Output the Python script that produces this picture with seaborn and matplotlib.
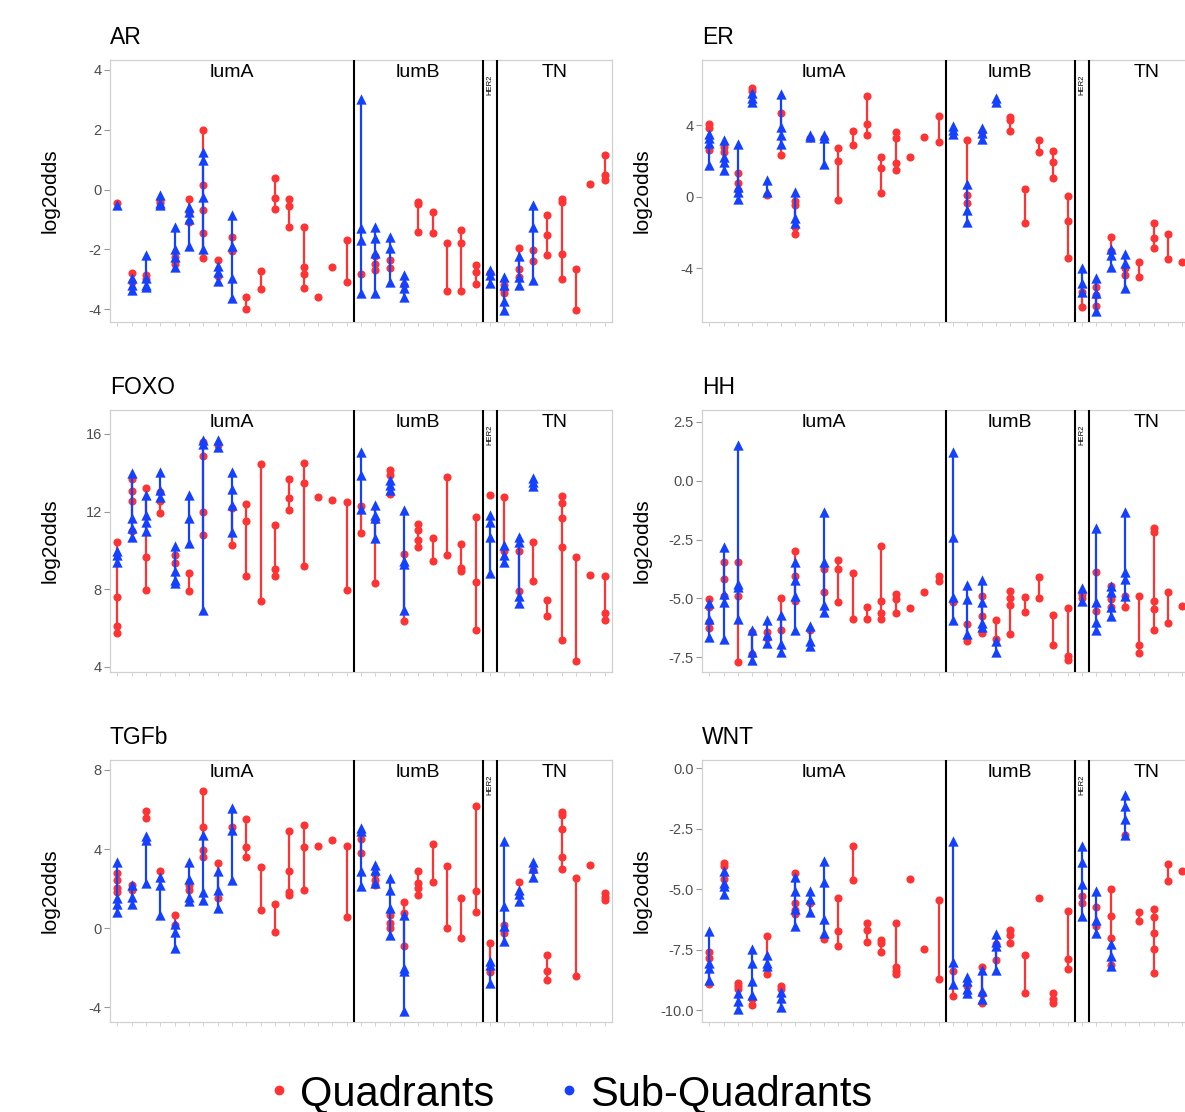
import numpy as np
import pandas as pd
import matplotlib
matplotlib.use("Agg")
import matplotlib.pyplot as plt
import seaborn as sns
from matplotlib.lines import Line2D

# subtype groups along the x axis (one column per sample)
groups = ["lumA", "lumB", "HER2", "TN"]
group_sizes = [17, 9, 1, 8]
pathways = ["AR", "ER", "FOXO", "HH", "TGFb", "WNT"]

# ---- AR ----
ar_quad = [[-0.44], [-2.8, -3.1], [-2.85, -3.0], [-0.4, -0.45], [-2.25, -2.5],
           [-0.32, -0.75, -1.1], [2.0, 0.15, -0.7, -1.45, -2.3], [-2.35, -2.9], [-1.58, -2.05],
           [-3.58, -3.99], [-2.74, -3.33], [0.4, -0.27, -0.66], [-0.32, -0.54, -1.24],
           [-1.24, -2.58, -2.82, -3.3], [-3.58], [-2.58], [-1.69, -3.08],
           [-2.82], [-2.24, -2.5, -2.69], [-2.36, -2.63], [-3.19], [-0.41, -0.5, -1.43],
           [-0.74, -1.47], [-1.78, -3.41], [-1.36, -1.78, -3.41], [-2.54, -2.77, -3.17],
           [-2.8],
           [-3.19, -3.35, -3.47], [-1.94, -2.66, -2.91], [-2.02, -2.39], [-0.86, -1.52, -2.19],
           [-0.32, -0.43, -2.17, -2.99], [-2.66, -4.02], [0.17], [1.17, 0.48, 0.31]]
ar_sub = [[-0.52], [-2.95, -3.2, -3.35], [-2.2, -2.95, -3.2, -3.25], [-0.2, -0.45, -0.52],
          [-1.25, -2.0, -2.25, -2.6], [-0.6, -0.75, -1.0, -1.9], [1.25, 1.0, -0.25, -2.0],
          [-2.55, -2.75, -3.05], [-0.85, -1.9, -2.97, -3.63],
          [], [], [], [], [], [], [], [],
          [3.03, -1.3, -1.69, -3.47], [-1.24, -1.63, -2.13, -3.47], [-1.58, -1.94, -3.08],
          [-2.86, -3.08, -3.3, -3.58], [], [], [], [], [],
          [-2.69, -2.86, -3.13],
          [-2.91, -3.19, -3.72, -4.02], [-2.24, -2.94, -3.19], [-0.52, -1.24, -3.02],
          [], [], [], [], []]

# ---- ER ----
er_quad = [[4.04, 3.85, 2.6], [2.8, 2.5], [1.3, 0.74, 0.37], [6.05, 5.9], [0.09],
           [4.65, 2.33], [-0.24, -0.45, -1.67, -2.1], [3.29], [3.29], [2.7, 1.99, -0.19],
           [3.67, 2.88], [5.64, 4.04, 3.44], [2.23, 1.62, 0.19], [3.63, 3.26, 1.86, 1.49],
           [2.2], [3.31], [4.5, 3.07],
           [], [3.16, 0.09, -0.33], [3.6], [], [4.47, 4.28, 3.67], [0.43, -1.49],
           [3.16, 2.51], [2.55, 1.92, 1.02], [0.04, -1.36, -3.44],
           [-5.3, -6.14],
           [-5.02, -5.49, -6.08], [-2.23, -3.03], [-4.0, -4.37], [-3.67, -4.47],
           [-1.49, -2.33, -2.85], [-2.1, -3.48], [-3.63], []]
er_sub = [[3.48, 3.26, 2.98, 1.77], [3.16, 2.23, 1.95, 1.49], [2.92, 0.56, 0.28, -0.13],
          [5.77, 5.49, 5.27], [0.93, 0.28], [5.71, 3.9, 3.44, 2.92], [0.28, -1.21, -1.49],
          [3.44, 3.35], [3.44, 3.3, 1.8],
          [], [], [], [], [], [], [], [],
          [3.96, 3.72, 3.5], [0.69, -0.74, -1.4], [3.85, 3.53, 3.22], [5.49, 5.3],
          [], [], [], [], [],
          [-4.0, -4.84, -5.34],
          [-4.52, -5.4, -6.38], [-2.92, -3.26, -3.91], [-3.22, -3.72, -5.12],
          [], [], [], [], []]

# ---- FOXO ----
foxo_quad = [[10.45, 7.57, 6.08, 5.73], [13.68, 13.06, 12.52, 11.0], [13.2, 9.63, 7.97],
             [13.0, 12.52, 11.91], [9.77, 9.34], [8.82, 7.88], [15.6, 14.88, 12.0, 10.8],
             [15.45], [12.17, 10.28], [12.39, 11.52, 8.65], [14.44, 7.36], [11.28, 9.05, 8.65],
             [13.68, 12.69, 12.09], [14.49, 13.46, 9.17], [12.74], [12.6], [12.48, 7.97],
             [12.26, 10.88], [11.57, 8.31], [14.15, 13.89, 12.89], [9.8, 6.37],
             [11.35, 11.06, 10.54, 10.15], [10.63, 9.46], [13.8, 9.77], [10.32, 9.08, 8.94],
             [11.74, 8.39, 5.91],
             [12.86],
             [12.77, 9.97], [9.94, 7.88], [10.45, 8.43], [7.45, 6.59],
             [12.82, 12.43, 11.66, 10.15, 5.39], [9.63, 4.31], [8.74], [8.65, 6.76, 6.42]]
foxo_sub = [[9.94, 9.77, 9.42], [13.97, 11.66, 11.14, 10.71], [12.86, 11.83, 11.48, 10.97],
            [14.06, 13.12, 12.77], [10.2, 8.91, 8.48, 8.31], [12.86, 11.66, 10.37],
            [15.69, 15.47, 6.94], [15.69, 15.35], [14.06, 13.17, 12.34, 10.94],
            [], [], [], [], [], [], [], [],
            [15.06, 13.89, 12.14], [12.34, 11.83, 11.66, 10.63], [13.63, 13.37, 13.12],
            [12.09, 9.46, 9.29, 6.94], [], [], [], [], [],
            [11.83, 11.48, 10.71, 8.82],
            [10.28, 9.77, 9.42], [10.71, 10.45, 7.62, 7.28], [13.72, 13.51, 13.29],
            [], [], [], [], []]

# ---- HH ----
hh_quad = [[-5.02, -5.37, -6.01, -6.27], [-3.47, -4.17, -4.88], [-3.47, -4.88, -7.68],
           [-6.44, -7.36], [-6.44, -6.69], [-4.99, -6.32], [-2.97, -4.03, -5.09], [-6.36],
           [-3.75, -4.71], [-3.35, -3.75, -5.16], [-3.92, -5.87], [-5.37, -5.87],
           [-2.79, -5.09, -5.62, -5.87], [-4.81, -5.02, -5.62], [-5.42], [-4.74], [-4.03, -4.24],
           [-5.16], [-6.08, -6.79], [-4.91, -5.76, -6.46], [-5.9, -6.72],
           [-4.67, -4.99, -5.28, -6.51], [-4.95, -5.59], [-4.1, -4.99], [-5.7, -6.97],
           [-5.42, -7.45, -7.6],
           [-4.81, -4.99],
           [-3.89, -5.52], [-4.46, -5.02, -5.37], [-4.88, -5.37], [-4.91, -6.97, -7.31],
           [-2.02, -2.16, -5.13, -5.47, -6.36], [-4.74, -6.04], [-5.33], []]
hh_sub = [[-5.19, -5.87, -6.65], [-2.83, -4.81, -5.16, -6.72], [1.51, -4.38, -4.53, -5.87],
          [-6.32, -7.28, -7.6], [-5.9, -6.55, -6.89], [-5.7, -6.93, -7.28],
          [-3.47, -4.2, -4.88, -6.36], [-6.15, -6.79, -7.03], [-1.32, -3.47, -5.3, -5.59],
          [], [], [], [], [], [], [], [],
          [1.2, -2.4, -4.95, -5.9], [-4.43, -5.02, -6.51], [-4.2, -5.16, -6.04, -6.22],
          [-6.79, -7.26], [], [], [], [], [],
          [-4.57, -5.09],
          [-2.02, -5.16, -5.98, -6.36], [-4.46, -4.74, -5.37, -5.76], [-1.32, -3.86, -4.17, -4.91],
          [], [], [], [], []]

# ---- TGFb ----
tgfb_quad = [[2.78, 2.44, 2.02, 1.82], [2.16, 1.94], [5.93, 5.56], [2.87], [0.67, 0.17],
             [2.19, 1.94], [6.94, 5.14, 3.96, 3.62], [3.29, 1.52], [5.14], [5.53, 4.08, 3.62],
             [3.07, 0.93], [1.21, -0.2], [4.92, 2.9, 1.85, 1.69], [5.22, 4.13, 1.94], [4.18],
             [4.47], [4.18, 0.54],
             [4.52, 3.79], [2.73, 2.44, 2.16], [0.67, 0.25, 0.0], [1.31, 0.76, -0.88],
             [2.9, 2.28, 2.02, 1.69], [4.25, 2.36], [3.12, 0.0], [1.55, -0.51], [6.2, 1.89, 0.84],
             [-0.76, -2.22],
             [0.17, -0.25], [2.36], [2.95], [-1.38, -2.19, -2.61], [5.9, 5.73, 5.02, 3.62, 3.0],
             [2.53, -2.44], [3.17], [1.77, 1.6, 1.43]]
tgfb_sub = [[3.34, 1.52, 1.21, 0.84], [2.19, 1.6, 1.21], [4.64, 4.47, 2.28], [2.61, 2.19, 0.67],
            [0.2, -0.17, -0.98], [3.37, 2.49, 1.6, 1.38], [4.72, 1.85, 1.43], [2.87, 1.94, 1.04],
            [6.1, 4.97, 2.44],
            [], [], [], [], [], [], [], [],
            [5.09, 4.92, 2.9, 2.11], [3.2, 2.95, 2.28], [2.56, 1.94, 1.01, -0.34],
            [0.67, -2.02, -2.16, -4.18], [], [], [], [], [],
            [-1.65, -1.85, -2.78],
            [4.42, 1.1, 0.13, -0.67], [1.94, 1.72, 1.35], [3.34, 3.03, 2.61],
            [], [], [], [], []]

# ---- WNT ----
wnt_quad = [[-7.6, -7.83, -8.94], [-3.9, -4.04, -4.57], [-8.87, -9.0, -9.14], [-9.56, -9.77],
            [-6.94, -8.52], [-9.0, -9.14], [-4.34, -5.56, -5.86, -6.04], [-5.56], [-7.05],
            [-5.35, -6.73, -7.35], [-3.19, -4.62], [-6.39, -6.69, -7.19], [-7.1, -7.24, -7.6],
            [-6.41, -8.21, -8.39, -8.52], [-4.57], [-7.49], [-5.45, -8.7],
            [-8.39, -9.42], [-9.0], [-8.21, -9.35, -9.7], [-7.28, -7.93], [-6.69, -6.91, -7.24],
            [-7.7, -9.28], [-5.35], [-9.31, -9.53, -9.7], [-5.9, -7.9, -8.29],
            [-5.26, -5.56],
            [-5.72, -6.52], [-4.98, -6.11, -7.0, -8.15], [-2.77], [-5.94, -6.32],
            [-5.81, -6.14, -6.8, -7.46, -8.48], [-3.97, -4.66], [-4.25], []]
wnt_sub = [[-6.73, -8.07, -8.25, -8.76], [-4.25, -4.73, -4.87, -5.21], [-9.31, -9.63, -9.97],
           [-7.46, -8.04, -8.8, -9.39], [-7.74, -8.04, -8.18], [-9.26, -9.49, -9.86],
           [-4.48, -5.08, -5.81, -6.5], [-5.08, -5.39, -5.94], [-3.83, -4.7, -6.22, -6.8],
           [], [], [], [], [], [], [], [],
           [-3.0, -8.01, -8.9], [-8.62, -8.8, -9.14, -9.31], [-8.34, -9.21, -9.56],
           [-6.87, -7.19, -7.35, -8.34], [], [], [], [], [],
           [-3.19, -3.88, -4.8, -6.11],
           [-5.08, -6.28, -6.8], [-7.28, -7.77, -8.18], [-1.12, -1.56, -2.08, -2.77],
           [], [], [], [], []]

# axis settings per panel: (ylim, yticks, tick labels)
axis_cfg = {
    "AR": ((-4.42, 4.34), [4, 2, 0, -2, -4], ["4", "2", "0", "-2", "-4"]),
    "ER": ((-6.98, 7.65), [4, 0, -4], ["4", "0", "-4"]),
    "FOXO": ((3.74, 17.25), [16, 12, 8, 4], ["16", "12", "8", "4"]),
    "HH": ((-8.11, 3.01), [2.5, 0, -2.5, -5, -7.5], ["2.5", "0.0", "-2.5", "-5.0", "-7.5"]),
    "TGFb": ((-4.73, 8.52), [8, 4, 0, -4], ["8", "4", "0", "-4"]),
    "WNT": ((-10.48, 0.36), [0, -2.5, -5, -7.5, -10], ["0.0", "-2.5", "-5.0", "-7.5", "-10.0"]),
}
panel_data = {
    "AR": (ar_quad, ar_sub), "ER": (er_quad, er_sub), "FOXO": (foxo_quad, foxo_sub),
    "HH": (hh_quad, hh_sub), "TGFb": (tgfb_quad, tgfb_sub), "WNT": (wnt_quad, wnt_sub),
}

sns.set_style("white")
plt.rcParams["font.family"] = ["Liberation Sans", "DejaVu Sans"]
plt.rcParams["axes.unicode_minus"] = False
plt.rcParams["text.color"] = "black"

red = "#ff3333"
blue = "#1440ff"


def to_long(quad, sub):
    rows = []
    for i, vals in enumerate(quad):
        for v in vals:
            rows.append((i, v, "Quadrants"))
    for i, vals in enumerate(sub):
        for v in vals:
            rows.append((i, v, "Sub-Quadrants"))
    return pd.DataFrame(rows, columns=["col", "log2odds", "kind"])


fig = plt.figure(figsize=(11.85, 11.12), dpi=100)
W, H = 1185, 1112
lefts = [110 / W, 702 / W]
bottoms = [1 - 321.7 / H, 1 - 671.7 / H, 1 - 1021.7 / H]
aw, ah = 502 / W, 262 / H

ends = np.cumsum(group_sizes)
starts = ends - np.array(group_sizes)
ncol = ends[-1]

for k, name in enumerate(pathways):
    ax = fig.add_axes([lefts[k % 2], bottoms[k // 2], aw, ah])
    quad, sub = panel_data[name]
    df = to_long(quad, sub)

    z = 2
    for kind, color, marker, size in [("Quadrants", red, "o", 34), ("Sub-Quadrants", blue, "^", 55)]:
        d = df[df["kind"] == kind]
        rng = d.groupby("col")["log2odds"].agg(["min", "max"])
        ax.vlines(rng.index, rng["min"], rng["max"], color=color, lw=1.6, zorder=z)
        sns.scatterplot(data=d, x="col", y="log2odds", color=color, marker=marker, s=size,
                        linewidth=0, ax=ax, zorder=z + 1, legend=False)
        z += 2

    # subtype separators and labels
    for b in ends[:-1]:
        ax.axvline(b - 0.5, color="black", lw=1.5, zorder=6)
    for g, s, n in zip(groups, starts, group_sizes):
        cx = s + (n - 1) / 2
        if g == "HER2":
            ax.text(cx, 0.905, g, transform=ax.get_xaxis_transform(), rotation=90,
                    ha="center", va="center", fontsize=5.5)
        else:
            ax.text(cx, 0.95, g, transform=ax.get_xaxis_transform(),
                    ha="center", va="center", fontsize=14)

    ylim, yt, ytl = axis_cfg[name]
    ax.set_xlim(-0.5, ncol - 0.5)
    ax.set_ylim(*ylim)
    ax.set_yticks(yt)
    ax.set_yticklabels(ytl)
    ax.set_xticks(range(ncol))
    ax.set_xticklabels([])
    ax.set_xlabel("")
    ax.set_ylabel("")
    ax.tick_params(axis="y", length=4, width=0.8, color="#999999", labelcolor="#4d4d4d",
                   labelsize=10.5, pad=2, left=True)
    ax.tick_params(axis="x", length=3, width=0.6, color="#cccccc", bottom=True)
    for sp in ax.spines.values():
        sp.set_color("#d0d0d0")
        sp.set_linewidth(0.9)

    ax.text(0.0, 1 + 22 / 262, name, transform=ax.transAxes, ha="left", va="center",
            fontsize=16.5)
    ax.text(-60 / 502, 0.5, "log2odds", transform=ax.transAxes, rotation=90,
            ha="center", va="center", fontsize=15)

handles = [Line2D([], [], marker="o", ls="", color=red, markersize=6),
           Line2D([], [], marker="o", ls="", color=blue, markersize=6)]
fig.legend(handles, ["Quadrants", "Sub-Quadrants"], loc="center",
           bbox_to_anchor=(0.482, 1 - 1094 / H), ncol=2, frameon=False, fontsize=30,
           handlelength=0.4, handletextpad=0.3, columnspacing=1.6, borderpad=0,
           labelcolor="black")

fig.savefig("out.png", dpi=100)
